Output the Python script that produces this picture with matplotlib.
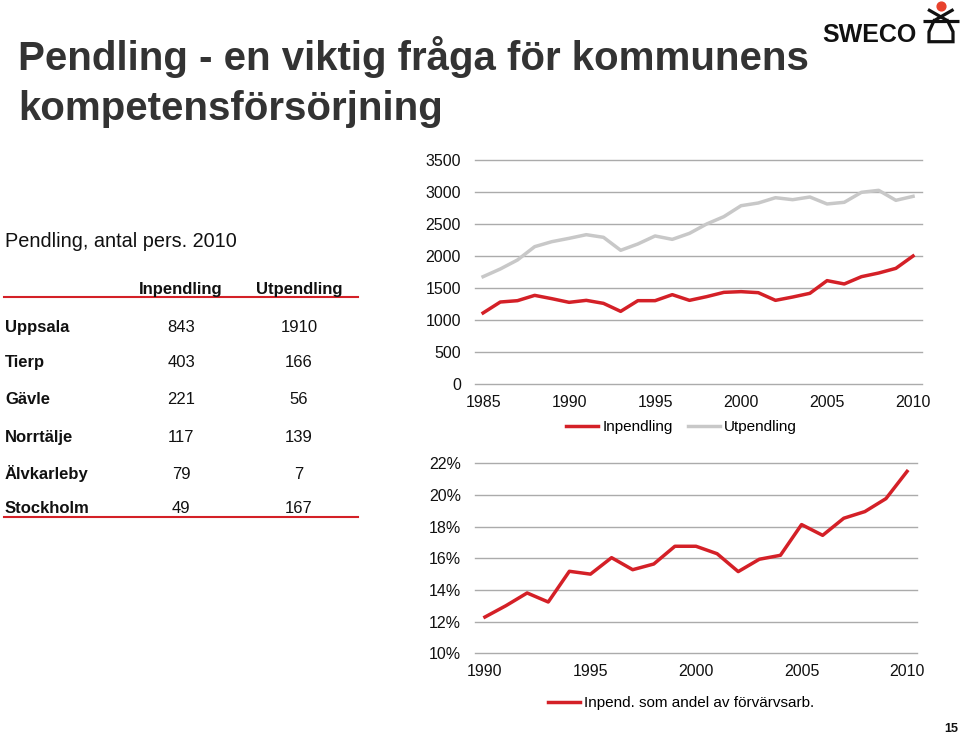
import matplotlib
matplotlib.use("Agg")
import matplotlib.pyplot as plt
from matplotlib.ticker import FuncFormatter

plt.rcParams['font.family'] = ['Liberation Sans', 'DejaVu Sans']

# ---- data ----
years_top = list(range(1985, 2011))
inpendling = [1110, 1281, 1302, 1385, 1333, 1276, 1307, 1260, 1135, 1302, 1302, 1396, 1307,
              1365, 1432, 1443, 1427, 1307, 1359, 1417, 1615, 1563, 1677, 1734, 1807, 2000]
utpendling = [1677, 1797, 1938, 2146, 2224, 2276, 2333, 2292, 2089, 2188, 2313, 2260, 2354,
              2500, 2615, 2786, 2828, 2911, 2880, 2922, 2813, 2839, 2995, 3026, 2870, 2932]

years_bot = list(range(1990, 2011))
andel = [12.29, 13.01, 13.81, 13.24, 15.18, 15.00, 16.04, 15.28, 15.64, 16.76, 16.76,
         16.29, 15.16, 15.94, 16.19, 18.13, 17.45, 18.53, 18.95, 19.77, 21.49]

table_places = ['Uppsala', 'Tierp', 'Gävle', 'Norrtälje', 'Älvkarleby', 'Stockholm']
table_in = [843, 403, 221, 117, 79, 49]
table_ut = [1910, 166, 56, 139, 7, 167]
table_headers = ['Inpendling', 'Utpendling']

title_lines = ['Pendling - en viktig fråga för kommunens', 'kompetensförsörjning']
subtitle = 'Pendling, antal pers. 2010'

RED = '#D42027'
GREY_LINE = '#C8C8C8'
GRID = '#ABABAB'
W, H = 960, 736

fig = plt.figure(figsize=(9.6, 7.36), dpi=100)

# overlay axes in pixel coordinates for text/decoration
ax0 = fig.add_axes([0, 0, 1, 1])
ax0.set_xlim(0, W)
ax0.set_ylim(H, 0)
ax0.axis('off')

ax0.text(18, 70, title_lines[0], fontsize=29, fontweight='bold', color='#333333', va='baseline')
ax0.text(18, 120, title_lines[1], fontsize=29, fontweight='bold', color='#333333', va='baseline')
ax0.text(5, 247, subtitle, fontsize=14.3, color='#111111', va='baseline')

# SWECO logo
ax0.text(822, 42, 'SWECO', fontsize=18, fontweight='bold', color='#111111', va='baseline')
lw_logo = 2.3
ax0.plot([928, 947.5], [9.5, 20.7], color='#111111', lw=lw_logo, solid_capstyle='butt')
ax0.plot([953.5, 934], [9.5, 20.7], color='#111111', lw=lw_logo, solid_capstyle='butt')
ax0.plot([923, 958.7], [20.7, 20.7], color='#111111', lw=lw_logo, solid_capstyle='butt')
ax0.plot([934, 929, 929, 953, 953, 947.5], [20.7, 31.7, 41.7, 41.7, 31.7, 20.7],
         color='#111111', lw=lw_logo, solid_joinstyle='miter')
ax0.scatter([940.7], [6], s=40, color='#E8412C', zorder=5)

# table
col_x = [181, 299]
ax0.text(col_x[0], 294, table_headers[0], fontsize=12, fontweight='bold', ha='center', va='baseline', color='#111111')
ax0.text(col_x[1], 294, table_headers[1], fontsize=12, fontweight='bold', ha='center', va='baseline', color='#111111')
ax0.plot([4, 358], [297, 297], color=RED, lw=1.5)
row_base = [331.7, 366.7, 404.3, 441.7, 479, 513.3]
for name, vi, vu, yb in zip(table_places, table_in, table_ut, row_base):
    ax0.text(5, yb, name, fontsize=12, fontweight='bold', va='baseline', color='#111111')
    ax0.text(col_x[0], yb, str(vi), fontsize=12, ha='center', va='baseline', color='#111111')
    ax0.text(col_x[1], yb, str(vu), fontsize=12, ha='center', va='baseline', color='#111111')
ax0.plot([4, 358], [516.5, 516.5], color=RED, lw=1.5)

ax0.text(958, 735, '15', fontsize=9, fontweight='bold', ha='right', va='bottom', color='#111111')


def style(ax):
    for s in ax.spines.values():
        s.set_visible(False)
    ax.grid(axis='y', color=GRID, lw=1.0)
    ax.grid(axis='x', visible=False)
    ax.set_axisbelow(True)
    ax.tick_params(length=0, labelsize=11.5, labelcolor='#111111')
    ax.tick_params(axis='y', pad=10)
    ax.tick_params(axis='x', pad=8)
    ax.patch.set_visible(False)
    for gl in ax.get_ygridlines():
        gl.set_clip_on(False)


# top chart
ax1 = fig.add_axes([475 / W, 1 - 384 / H, 447 / W, 224 / H])
l1, = ax1.plot(years_top, inpendling, color=RED, lw=2.5, label='Inpendling')
l2, = ax1.plot(years_top, utpendling, color=GREY_LINE, lw=2.5, label='Utpendling')
ax1.set_ylim(0, 3500)
ax1.set_yticks(range(0, 3501, 500))
ax1.set_xlim(1984.53, 2010.52)
ax1.set_xticks(range(1985, 2011, 5))
style(ax1)
ax1.legend(handles=[l1, l2], loc='center', bbox_to_anchor=(681.5 / W, 1 - 427 / H),
           bbox_transform=fig.transFigure, ncol=2, frameon=False, fontsize=11,
           handlelength=2.1, handletextpad=0.25, columnspacing=1.0)

# bottom chart
ax2 = fig.add_axes([475 / W, 1 - 653.3 / H, 442 / W, 190 / H])
l3, = ax2.plot(years_bot, andel, color=RED, lw=2.5, label='Inpend. som andel av förvärvsarb.')
ax2.set_ylim(10, 22)
ax2.set_yticks(range(10, 23, 2))
ax2.yaxis.set_major_formatter(FuncFormatter(lambda v, p: f'{v:.0f}%'))
ax2.set_xlim(1989.53, 2010.47)
ax2.set_xticks(range(1990, 2011, 5))
style(ax2)
ax2.legend(handles=[l3], loc='center', bbox_to_anchor=(681 / W, 1 - 703 / H),
           bbox_transform=fig.transFigure, frameon=False, fontsize=11,
           handlelength=2.1, handletextpad=0.25)

fig.savefig('out.png', dpi=100)
